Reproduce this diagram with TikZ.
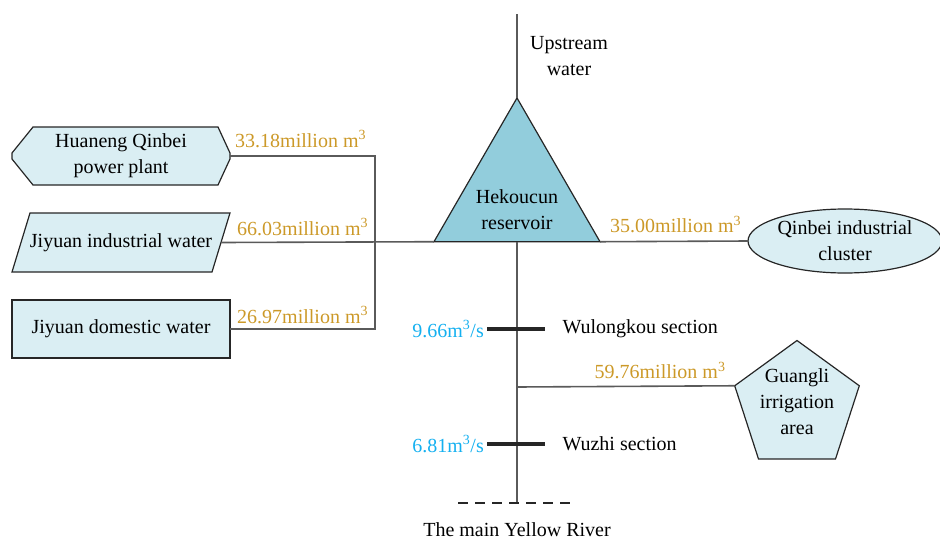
\documentclass[tikz,border=0pt]{standalone}
\usepackage{fontspec}
\setmainfont{Liberation Serif}
\usepackage{tikz}
\usetikzlibrary{shapes,positioning,backgrounds}
\usepackage{xcolor}
\definecolor{wrlight}{RGB}{218,238,243}
\definecolor{wrteal}{RGB}{146,205,220}
\definecolor{wrorange}{RGB}{204,153,40}
\definecolor{wrcyan}{RGB}{20,176,240}
\definecolor{wrgray}{RGB}{90,90,90}
\tikzstyle{site} = [draw=black!85, fill=wrlight, line width=1.2pt, text centered, align=center, inner sep=0pt, outer sep=0pt]
\tikzstyle{sitebox} = [minimum width=218pt, minimum height=58pt, align=center, inner sep=0pt, outer sep=0pt]
\tikzstyle{outline} = [draw=black!85, fill=wrlight, line width=1.2pt, line join=miter]
\tikzstyle{flow} = [line width=1.6pt, color=wrgray]
\tikzstyle{vol} = [color=wrorange, inner sep=0pt]
\tikzstyle{rate} = [color=wrcyan, inner sep=1pt]
\tikzstyle{gauge} = [line width=3.5pt, color=black!85]
\tikzstyle{outlet} = [line width=1.5pt, color=black!85, dash pattern=on 10pt off 7pt]

\begin{document}
\begin{tikzpicture}[x=1pt, y=-1pt, node distance=86.5pt, font=\fontsize{20}{26}\selectfont]
\useasboundingbox (0,0) rectangle (940,541);
% water users on the left
\node (plant) [sitebox] at (121,156) {Huaneng Qinbei\\power plant};
\node (indus) [sitebox, minimum height=59pt, below of=plant] {Jiyuan industrial water};
\node (dom) [sitebox, below of=indus, draw=black!85, fill=wrlight, line width=1.2pt] {Jiyuan domestic water};
\begin{scope}[on background layer]
\draw[outline] ([xshift=21pt]plant.north west) -- ([xshift=-12pt]plant.north east) -- ([yshift=3pt]plant.east) -- ([yshift=-3pt]plant.east)
  -- ([xshift=-12pt]plant.south east) -- ([xshift=21pt]plant.south west) -- ([yshift=-3pt]plant.west) -- ([yshift=3pt]plant.west) -- cycle;
\draw[outline] ([xshift=18pt]indus.north west) -- (indus.north east) -- ([xshift=-18pt]indus.south east) -- (indus.south west) -- cycle;
\end{scope}

% reservoir and other users
\node (resv) [site, fill=wrteal, regular polygon, regular polygon sides=3, minimum size=191.7pt, label={[align=center, yshift=-16pt]center:Hekoucun\\reservoir}] at (517,193.8) {};
\node (qinbei) [site, ellipse, minimum width=194pt, minimum height=64pt] at (845,241) {Qinbei industrial\\cluster};
\node (gl) [site, regular polygon, regular polygon sides=5, minimum size=131pt, label={[align=center, yshift=4pt]center:Guangli\\irrigation\\area}] at (797,406) {};

\coordinate (src) at (517,14);
\coordinate (indusout) at ([xshift=-9pt]indus.east);
\coordinate (jn) at (375,242);
\coordinate (wlk) at (517,329);
\coordinate (fork) at (517,387);
\coordinate (wz) at (517,444);
\coordinate (mouth) at (517,503);

% river and supply lines
\draw[flow] (src) -- (resv.corner 1);
\draw[flow] (indusout) -- (resv.corner 2);
\draw[flow] (resv.corner 3) -- (qinbei.west);
\draw[flow] (plant.east) -| (jn) |- (dom.east);
\draw[flow] (resv.side 2) -- (mouth);
\draw[flow] (fork) -- (gl.corner 2);
\draw[gauge] ([xshift=-30pt]wlk) -- ([xshift=28pt]wlk);
\draw[gauge] ([xshift=-30pt]wz) -- ([xshift=28pt]wz);
\draw[outlet] ([xshift=-59pt]mouth) -- ([xshift=53pt]mouth);

% volumes
\node (plantvol) [vol, anchor=base west] at ([xshift=5pt, yshift=9pt]plant.east) {33.18million m\textsuperscript{3}};
\node (indusvol) [vol, anchor=base west] at ([xshift=16pt, yshift=7pt]indusout) {66.03million m\textsuperscript{3}};
\node (domvol) [vol, anchor=base west] at ([xshift=7pt, yshift=6pt]dom.east) {26.97million m\textsuperscript{3}};
\node (qinbeivol) [vol, anchor=base west] at ([xshift=10pt, yshift=9pt]resv.corner 3) {35.00million m\textsuperscript{3}};
\node (glvol) [vol, anchor=base east] at ([xshift=-9pt, yshift=7pt]gl.corner 2) {59.76million m\textsuperscript{3}};

% sections and labels
\node (wlkrate) [rate, anchor=east] at ([xshift=-32pt]wlk) {9.66m\textsuperscript{3}/s};
\node (wzrate) [rate, anchor=east] at ([xshift=-32pt]wz) {6.81m\textsuperscript{3}/s};
\node (wlkname) [anchor=west] at ([xshift=42pt]wlk) {Wulongkou section};
\node (wzname) [anchor=west] at ([xshift=42pt]wz) {Wuzhi section};
\node (up) [align=center] at (569,56) {Upstream\\water};
\node (river) at (517,530) {The main Yellow River};
\end{tikzpicture}
\end{document}
